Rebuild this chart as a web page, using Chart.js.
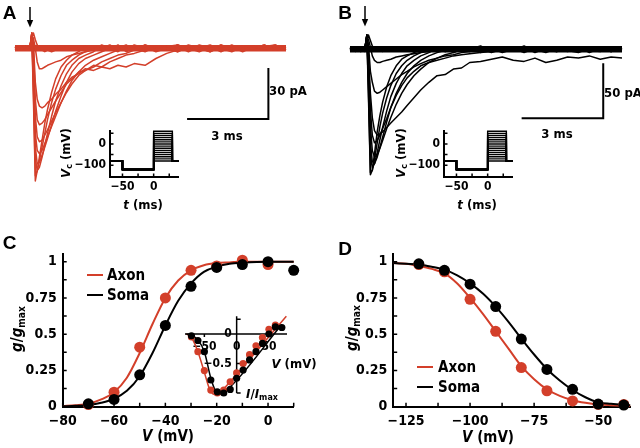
<!DOCTYPE html>
<html>
<head>
<meta charset="utf-8">
<script src="https://cdn.jsdelivr.net/npm/chart.js@4.4.1/dist/chart.umd.min.js"></script>
<style>
  body { margin: 0; background: #fff; }
  #fig { position: relative; width: 640px; height: 448px; overflow: hidden; background: #fff;
         font-family: "Liberation Sans Narrow", "DejaVu Sans Condensed", Roboto, sans-serif; color: #000; }
  #fig canvas { position: absolute; }
  .t { position: absolute; white-space: nowrap; line-height: 1; font-weight: bold; transform: translate(-50%, -50%); }
  .l { position: absolute; white-space: nowrap; line-height: 1; font-weight: bold; transform: translate(0, -50%); }
  .r { position: absolute; white-space: nowrap; line-height: 1; font-weight: bold; transform: translate(-50%, -50%) rotate(-90deg); }
  .panel { font-family: "Liberation Sans", Arial, sans-serif; font-size: 19px; }
  .seg { position: absolute; height: 2px; margin-top: -1px; }
  sub { font-size: 68%; vertical-align: baseline; position: relative; top: 0.28em; }
</style>
</head>
<body>
<div id="fig">
  <canvas id="trA" width="300" height="210" style="left:0;top:0"></canvas>
  <canvas id="trB" width="320" height="210" style="left:320px;top:0"></canvas>
  <canvas id="protoA" width="130" height="95" style="left:60px;top:120px"></canvas>
  <canvas id="protoB" width="130" height="95" style="left:394px;top:120px"></canvas>
  <canvas id="actC" width="310" height="208" style="left:0;top:240px"></canvas>
  <canvas id="ivC" width="150" height="105" style="left:170px;top:300px"></canvas>
  <canvas id="inactD" width="320" height="208" style="left:320px;top:240px"></canvas>

  <div class="t panel" style="left:9.5px;top:11.5px">A</div>
  <div class="t panel" style="left:345px;top:11.5px">B</div>
  <div class="t panel" style="left:9.5px;top:241.5px">C</div>
  <div class="t panel" style="left:345px;top:247.5px">D</div>

  <svg style="position:absolute;left:26px;top:7px" width="8" height="21"><path d="M4 0V15" stroke="#000" stroke-width="1.5"/><path d="M0.8 13L4 20.5L7.2 13Z" fill="#000"/></svg>
  <svg style="position:absolute;left:361px;top:6px" width="8" height="21"><path d="M4 0V15" stroke="#000" stroke-width="1.5"/><path d="M0.8 13L4 20.5L7.2 13Z" fill="#000"/></svg>

  <div class="t" style="left:288px;top:90px;font-size:13px">30 pA</div>
  <div class="t" style="left:227px;top:135px;font-size:13px">3 ms</div>
  <div class="t" style="left:623px;top:92px;font-size:13px">50 pA</div>
  <div class="t" style="left:557px;top:133px;font-size:13px">3 ms</div>

  <div class="r" style="left:65px;top:153px;font-size:13px"><i>V</i><sub>c</sub> (mV)</div>
  <div class="t" style="left:143px;top:204px;font-size:13px"><i>t</i> (ms)</div>
  <div class="r" style="left:400px;top:153px;font-size:13px"><i>V</i><sub>c</sub> (mV)</div>
  <div class="t" style="left:477px;top:204px;font-size:13px"><i>t</i> (ms)</div>

  <div class="r" style="left:17px;top:329px;font-size:15px"><i>g</i>/<i>g</i><sub>max</sub></div>
  <div class="t" style="left:168px;top:436px;font-size:15px"><i>V</i> (mV)</div>
  <div class="seg" style="left:87px;width:16px;top:275px;background:#d33f2a"></div>
  <div class="l" style="left:107px;top:275px;font-size:15px">Axon</div>
  <div class="seg" style="left:87px;width:16px;top:295px;background:#000"></div>
  <div class="l" style="left:107px;top:295px;font-size:15px">Soma</div>
  <div class="t" style="left:294px;top:363px;font-size:13px"><i>V</i> (mV)</div>
  <div class="t" style="left:262px;top:393px;font-size:13px"><i>I</i>/<i>I</i><sub>max</sub></div>

  <div class="r" style="left:352px;top:328px;font-size:15px"><i>g</i>/<i>g</i><sub>max</sub></div>
  <div class="t" style="left:488px;top:437px;font-size:15px"><i>V</i> (mV)</div>
  <div class="seg" style="left:417px;width:16px;top:367px;background:#d33f2a"></div>
  <div class="l" style="left:438px;top:367px;font-size:15px">Axon</div>
  <div class="seg" style="left:417px;width:16px;top:387px;background:#000"></div>
  <div class="l" style="left:438px;top:387px;font-size:15px">Soma</div>
</div>

<script>
// ---- current traces (ms, pA) ----
const traceTime = [0,0.2,0.4,0.55,0.62,0.68,0.75,0.82,0.9,1.0,1.1,1.2,1.35,1.5,1.7,1.9,2.1,2.35,2.6,2.9,3.2,3.5,3.8,4.1,4.4,4.8,5.2,5.6,6.0,6.4,6.8,7.2,7.6,8.0,8.4,8.8,9.2,9.6,10.0];

const axonTraces = [
  [1,-1,1,0, 7,-30,-78,-72,-64,-54,-44,-36,-26,-18,-11,-7,-4,-2, 1,-1,2,0,-2,1,-1,2,-1,0,1,-2,1,0,-1,2,-1,1,0,-1,1],
  [0,1,-1,1, 8,-25,-75,-72,-66,-58,-50,-42,-32,-24,-16,-10,-7,-4,-2, 0,1,-1,2,-2,0,1,-1,1,2,-1,0,-2,1,1,-1,0,2,-1,0],
  [-1,0,1,0, 8,-20,-65,-72,-70,-64,-57,-50,-40,-31,-22,-15,-10,-6,-4,-2, 1,-1,0,2,-1,1,-2,0,1,-1,2,0,-1,1,-2,1,0,-1,1],
  [1,0,-1,1, 8,-15,-58,-68,-67,-63,-58,-53,-45,-37,-28,-20,-14,-9,-6,-4,-2, 0,1,-1,2,0,-1,1,-2,1,0,2,-1,0,1,-1,0,2,-1],
  [0,-1,1,0, 9,-10,-50,-60,-62,-60,-56,-52,-46,-40,-32,-25,-19,-14,-10,-7,-5,-3, -1,1,0,-2,1,-1,2,0,-1,1,0,-2,1,1,-1,0,1],
  [1,0,0,-1, 9,-5,-40,-52,-55,-54,-51,-48,-43,-38,-32,-26,-21,-16,-13,-11,-8,-6,-4,-3, -1,1,0,-1,2,-1,0,1,-2,1,0,-1,1,2,-1],
  [0,1,0,-1, 9,0,-30,-42,-45,-44,-42,-39,-35,-31,-26,-21,-18,-14,-13,-10,-11,-8,-6,-4,-3, -1,0,1,-1,2,0,-2,1,0,-1,1,-1,0,1],
  [-1,0,1,0, 9,3,-20,-30,-34,-35,-34,-32,-30,-27,-24,-20,-17,-15,-12,-13,-11,-12,-10,-11,-9,-10,-6,-3,-1, 1,0,-1,2,-1,0,1,-1,0,1],
  [0,0,1,-1, 7,6,0,-8,-12,-12,-11,-10,-9,-8,-7,-5,-4,-3,-2,-1, 1,0,-1,1,-1,2,0,-1,1,0,-2,1,0,1,-1,0,2,-1,0],
  [1,-1,0,1, 6,9,5,2,0,-1,-2,-1,-2,-1,0,1,-1,0,1, -1,0,2,-1,0,1,-1,1,0,-2,1,0,-1,2,0,-1,1,0,-1,1]
];

const somaTraces = [
  [1,-2,2,0, 12,-45,-114,-110,-95,-75,-60,-48,-34,-24,-15,-9,-6,-3,-1, 2,-1,1,-3,0,2,-2,1,0,-1,3,-2,0,1,-1,2,-3,1,0,-1],
  [0,1,-1,2, 13,-40,-112,-110,-100,-85,-70,-58,-44,-33,-22,-15,-10,-6,-3, 0,2,-2,1,-1,0,3,-2,1,-1,0,2,-1,-2,1,0,-1,2,-2,1],
  [-1,1,0,-2, 13,-30,-95,-108,-104,-94,-82,-71,-56,-43,-31,-22,-15,-10,-6,-3, 1,-2,0,2,-1,1,-3,0,2,-1,1,0,-2,1,2,-1,0,-2,1],
  [2,0,-1,1, 13,-25,-85,-102,-104,-98,-89,-80,-66,-53,-40,-30,-22,-15,-10,-6,-3, -1,1,0,-2,2,-1,0,1,-3,1,0,2,-1,-2,1,0,2,-1],
  [0,-1,2,-1, 13,-15,-70,-92,-98,-96,-90,-83,-72,-62,-50,-40,-32,-24,-18,-12,-8,-5,-3, 0,2,-2,1,-1,0,2,-3,1,0,-1,2,-2,1,0,-1],
  [1,0,-2,1, 13,-10,-55,-78,-85,-83,-78,-72,-63,-53,-42,-33,-26,-20,-15,-12,-10,-8,-6,-5,-4,-3,-2, 0,-1,1,-2,0,2,-1,-3,1,0,-2,1],
  [-1,1,0,2, 12,-5,-40,-62,-74,-78,-77,-75,-71,-67,-62,-57,-51,-44,-37,-30,-24,-23,-18,-17,-12,-11,-9,-7,-10,-11,-8,-12,-10,-7,-8,-6,-9,-7,-8],
  [0,2,-1,0, 13,4,-20,-30,-38,-40,-39,-37,-34,-31,-27,-23,-20,-16,-13,-10,-8,-6,-5,-3,-2, 0,1,-2,2,-1,0,-3,1,0,2,-1,-2,1,0],
  [1,-1,0,1, 11,9,2,-6,-10,-12,-12,-11,-10,-9,-7,-6,-5,-4,-3,-2,-1, 1,-2,0,2,-1,1,-3,0,1,-1,2,0,-2,1,-1,0,2,-1],
  [0,1,-2,1, 9,13,8,3,1,-1,0,-2,1,-1,0,2,-1,0, 1,-2,0,2,-1,0,1,-3,1,0,-1,2,-1,0,-2,1,0,2,-1,0,1]
];

// recording baseline (noise band) span, ms
const baselineSpan = [0, 10];

// scale bars: corner [t, I] and size [ms, pA]
const axonBarCorner = [6.35, -41.6];
const axonBarSize = [3, 30];
const somaBarCorner = [6.31, -62.7];
const somaBarSize = [3, 50];

// ---- voltage protocol (ms, mV) ----
const protoTime = [-70, -50, -50, 0, 0, 30, 30, 40];
const protoStage = ['hold', 'hold', 'pre', 'pre', 'test', 'test', 'hold', 'hold'];
const holdLevel = -80;
const prepulseLevel = -120;
const testLevels = [-80, -70, -60, -50, -40, -30, -20, -10, 0, 10, 20, 30, 40, 50, 60];
const protoXTicks = [-50, -25, 0, 25];
const protoXLabels = [-50, 0];
const protoYTicks = [-100, -50, 0, 50];
const protoYLabels = [-100, 0];

// ---- C: activation ----
const actAxonV = [-70, -60, -50, -40, -30, -20, -10, 0];
const actAxon = [0.015, 0.1, 0.41, 0.75, 0.94, 0.97, 1.01, 0.98];
const actSomaV = [-70, -60, -50, -40, -30, -20, -10, 0, 10];
const actSoma = [0.02, 0.05, 0.22, 0.56, 0.83, 0.96, 0.98, 1.0, 0.94];
const actCurveV = [-80, -75, -70, -65, -60, -55, -50, -45, -40, -35, -30, -25, -20, -15, -10, 0, 10];
const actAxonFit = [0.004, 0.01, 0.02, 0.05, 0.1, 0.2, 0.37, 0.57, 0.75, 0.87, 0.94, 0.975, 0.99, 0.995, 1, 1, 1];
const actSomaFit = [0.003, 0.006, 0.012, 0.027, 0.055, 0.11, 0.21, 0.37, 0.56, 0.73, 0.85, 0.93, 0.965, 0.985, 0.993, 1, 1];
const gXTicksC = [-80, -70, -60, -50, -40, -30, -20, -10, 0, 10];
const gXLabelsC = [-80, -60, -40, -20, 0];
const gYTicks = [0, 0.125, 0.25, 0.375, 0.5, 0.625, 0.75, 0.875, 1];
const gYLabels = [0, 0.25, 0.5, 0.75, 1];

// ---- C inset: I-V ----
const ivAxonV = [-70, -60, -50, -40, -30, -20, -10, 0, 10, 20, 30, 40, 50, 60];
const ivAxon = [-0.05, -0.3, -0.62, -0.95, -1.0, -0.95, -0.81, -0.66, -0.5, -0.35, -0.2, -0.06, 0.08, 0.15];
const ivSomaV = [-70, -60, -50, -40, -30, -20, -10, 0, 10, 20, 30, 40, 50, 60, 70];
const ivSoma = [-0.03, -0.11, -0.3, -0.78, -0.98, -1.0, -0.94, -0.75, -0.61, -0.44, -0.3, -0.16, 0.0, 0.12, 0.11];
const ivAxonFitV = [-78, -70, -60, -50, -42, -35, -28, -20, 77];
const ivAxonFit = [0, -0.06, -0.3, -0.65, -0.93, -1.02, -1.02, -0.93, 0.3];
const ivSomaFitV = [-78, -70, -60, -50, -40, -32, -25, -18, 70];
const ivSomaFit = [0, -0.02, -0.1, -0.3, -0.75, -0.98, -1.02, -0.98, 0.16];
const ivXLabels = [-50, 0, 50];
const ivXTicks = [-50, 50];
const ivYLabels = [0, -0.5];
const ivYTicks = [0.25, -0.5, -1];

// ---- D: inactivation ----
const inactV = [-120, -110, -100, -90, -80, -70, -60, -50, -40];
const inactAxon = [0.98, 0.93, 0.74, 0.52, 0.27, 0.11, 0.04, 0.016, 0.016];
const inactSoma = [0.985, 0.94, 0.845, 0.69, 0.466, 0.257, 0.12, 0.018, 0.011];
const inactCurveV = [-130, -125, -120, -115, -110, -105, -100, -95, -90, -85, -80, -75, -70, -65, -60, -55, -50, -45, -37.5];
const inactAxonFit = [0.99, 0.985, 0.97, 0.95, 0.92, 0.85, 0.75, 0.64, 0.52, 0.4, 0.28, 0.19, 0.12, 0.075, 0.045, 0.027, 0.015, 0.01, 0.005];
const inactSomaFit = [0.99, 0.985, 0.98, 0.965, 0.945, 0.905, 0.85, 0.78, 0.69, 0.585, 0.47, 0.36, 0.26, 0.18, 0.115, 0.065, 0.03, 0.02, 0.01];
const gXTicksD = [-125, -112.5, -100, -87.5, -75, -62.5, -50];
const gXLabelsD = [-125, -100, -75, -50];

const RED = '#d33f2a';
const FAM = '"Liberation Sans Narrow", "DejaVu Sans Condensed", Roboto, sans-serif';

Chart.defaults.font.family = FAM;
Chart.defaults.color = '#000';

const pts = (xs, ys) => xs.map((v, i) => ({ x: v, y: ys[i] }));
const fmt = v => (v < 0 ? '\u2212' + Math.abs(v) : String(v));

// inward tick marks on left / bottom axes
function inTicks(xVals, yVals, len) {
  return {
    id: 'inTicks',
    afterDraw(chart) {
      const { ctx, chartArea: a, scales: { x, y } } = chart;
      ctx.save();
      ctx.strokeStyle = '#000';
      ctx.lineWidth = 1.5;
      ctx.beginPath();
      xVals.forEach(v => { const p = x.getPixelForValue(v); ctx.moveTo(p, a.bottom); ctx.lineTo(p, a.bottom - len); });
      yVals.forEach(v => { const p = y.getPixelForValue(v); ctx.moveTo(a.left, p); ctx.lineTo(a.left + len, p); });
      ctx.stroke();
      ctx.restore();
    }
  };
}

function axis(min, max, labels, size, pad, fitSize, isY) {
  return {
    type: 'linear', min, max,
    grid: { display: false, drawTicks: false },
    border: { display: true, color: '#000', width: 2 },
    ticks: { color: '#000', font: { size, weight: 'bold' }, padding: pad, maxRotation: 0, autoSkip: false, callback: v => fmt(v) },
    afterBuildTicks: s => { s.ticks = labels.map(v => ({ value: v })); },
    afterFit: s => { if (isY) s.width = fitSize; else s.height = fitSize; }
  };
}

const base = { responsive: false, animation: false, events: [], plugins: { legend: { display: false }, tooltip: { enabled: false } } };

// ---- trace panels ----
function traceChart(id, traces, color, bandWidth, corner, size, yMin, yMax, pad) {
  const ds = traces.map(tr => ({
    data: pts(traceTime, tr), showLine: true, borderColor: color, borderWidth: 1.5,
    pointRadius: 0, borderJoinStyle: 'round', clip: false
  }));
  ds.push({
    data: baselineSpan.map(t => ({ x: t, y: 0 })), showLine: true, borderColor: color,
    borderWidth: bandWidth, pointRadius: 0, clip: false
  });
  ds.unshift({
    data: [{ x: corner[0], y: corner[1] }, { x: corner[0] + size[0], y: corner[1] }, { x: corner[0] + size[0], y: corner[1] + size[1] }],
    showLine: true, borderColor: '#000', borderWidth: 2, pointRadius: 0, clip: false
  });
  new Chart(document.getElementById(id), {
    type: 'scatter',
    data: { datasets: ds },
    options: Object.assign({}, base, {
      layout: { padding: pad },
      scales: { x: { type: 'linear', display: false, min: 0, max: 10 }, y: { type: 'linear', display: false, min: yMin, max: yMax } }
    })
  });
}
traceChart('trA', axonTraces, RED, 6.5, axonBarCorner, axonBarSize, -90, 20, { left: 15, right: 14, top: 14.3, bottom: 8.7 });
traceChart('trB', somaTraces, '#000', 6.5, somaBarCorner, somaBarSize, -130, 30, { left: 30, right: 18, top: 16.3, bottom: 17.7 });

// ---- protocol insets ----
function protoChart(id) {
  const level = (stage, v) => (stage === 'hold' ? holdLevel : stage === 'pre' ? prepulseLevel : v);
  const ds = testLevels.map(v => ({
    data: protoTime.map((t, i) => ({ x: t, y: level(protoStage[i], v) })),
    showLine: true, borderColor: '#000', borderWidth: 1.4, pointRadius: 0, clip: false
  }));
  new Chart(document.getElementById(id), {
    type: 'scatter',
    data: { datasets: ds },
    options: Object.assign({}, base, {
      layout: { padding: { left: 0, right: 11.4, top: 10.3, bottom: 0 } },
      scales: {
        x: axis(-70, 40, protoXLabels, 12, 3, 38.1, false),
        y: axis(-155, 60, protoYLabels, 12, 4, 50, true)
      }
    }),
    plugins: [inTicks(protoXTicks, protoYTicks, 3.5)]
  });
}
protoChart('protoA');
protoChart('protoB');

// ---- conductance panels ----
function gChart(id, sets, xMin, xMax, xLabels, xTicks, yWidth, padRight) {
  const ds = [
    { data: pts(sets[0][0], sets[0][1]), showLine: false, pointRadius: 5.5, pointBackgroundColor: '#000', pointBorderWidth: 0, clip: false, order: 1 },
    { data: pts(sets[1][0], sets[1][1]), showLine: false, pointRadius: 5.5, pointBackgroundColor: RED, pointBorderWidth: 0, clip: false, order: 2 },
    { data: pts(sets[2][0], sets[2][1]), showLine: true, borderColor: '#000', borderWidth: 2, pointRadius: 0, cubicInterpolationMode: 'monotone', clip: false, order: 3 },
    { data: pts(sets[3][0], sets[3][1]), showLine: true, borderColor: RED, borderWidth: 2, pointRadius: 0, cubicInterpolationMode: 'monotone', clip: false, order: 4 }
  ];
  new Chart(document.getElementById(id), {
    type: 'scatter',
    data: { datasets: ds },
    options: Object.assign({}, base, {
      layout: { padding: { left: 0, right: padRight, top: 12.7, bottom: 0 } },
      scales: {
        x: axis(xMin, xMax, xLabels, 14, 6, 41.3, false),
        y: axis(0, 1.05, gYLabels, 14, 6, yWidth, true)
      }
    }),
    plugins: [inTicks(xTicks, gYTicks, 4)]
  });
}
gChart('actC', [[actSomaV, actSoma], [actAxonV, actAxon], [actCurveV, actSomaFit], [actCurveV, actAxonFit]],
  -80, 10, gXLabelsC, gXTicksC, 62.7, 16.3);
gChart('inactD', [[inactV, inactSoma], [inactV, inactAxon], [inactCurveV, inactSomaFit], [inactCurveV, inactAxonFit]],
  -130, -37.5, gXLabelsD, gXTicksD, 73.2, 9.8);

// ---- C inset: crossing axes at zero ----
const ivAxes = {
  id: 'ivAxes',
  beforeDatasetsDraw(chart) {
    const { ctx, scales: { x, y } } = chart;
    const x0 = x.getPixelForValue(0), y0 = y.getPixelForValue(0);
    ctx.save();
    ctx.fillStyle = '#000';
    ctx.font = 'bold 12px ' + FAM;
    ctx.textAlign = 'center';
    ctx.textBaseline = 'middle';
    ivXLabels.forEach(v => ctx.fillText(fmt(v), x.getPixelForValue(v), y0 + 13));
    ctx.textAlign = 'right';
    ivYLabels.forEach(v => ctx.fillText(fmt(v), x0 - 5, y.getPixelForValue(v)));
    ctx.strokeStyle = '#000';
    ctx.lineWidth = 1.5;
    ctx.beginPath();
    ctx.moveTo(x.left, y0); ctx.lineTo(x.right, y0);
    ctx.moveTo(x0, y.top); ctx.lineTo(x0, y.getPixelForValue(-1));
    ivYTicks.forEach(v => { const p = y.getPixelForValue(v); ctx.moveTo(x0, p); ctx.lineTo(x0 + 4, p); });
    ivXTicks.forEach(v => { const p = x.getPixelForValue(v); ctx.moveTo(p, y0); ctx.lineTo(p, y0 + 3); });
    ctx.stroke();
    ctx.restore();
  }
};
new Chart(document.getElementById('ivC'), {
  type: 'scatter',
  data: {
    datasets: [
      { data: pts(ivSomaV, ivSoma), showLine: false, pointRadius: 3.6, pointBackgroundColor: '#000', pointBorderWidth: 0, clip: false, order: 1 },
      { data: pts(ivAxonV, ivAxon), showLine: false, pointRadius: 3.6, pointBackgroundColor: RED, pointBorderWidth: 0, clip: false, order: 2 },
      { data: pts(ivSomaFitV, ivSomaFit), showLine: true, borderColor: '#000', borderWidth: 1.5, pointRadius: 0, cubicInterpolationMode: 'monotone', clip: false, order: 3 },
      { data: pts(ivAxonFitV, ivAxonFit), showLine: true, borderColor: RED, borderWidth: 1.5, pointRadius: 0, cubicInterpolationMode: 'monotone', clip: false, order: 4 }
    ]
  },
  options: Object.assign({}, base, {
    layout: { padding: { left: 15, right: 33, top: 16.3, bottom: 12 } },
    scales: { x: { type: 'linear', display: false, min: -80, max: 78 }, y: { type: 'linear', display: false, min: -1, max: 0.3 } }
  }),
  plugins: [ivAxes]
});
</script>
</body>
</html>
